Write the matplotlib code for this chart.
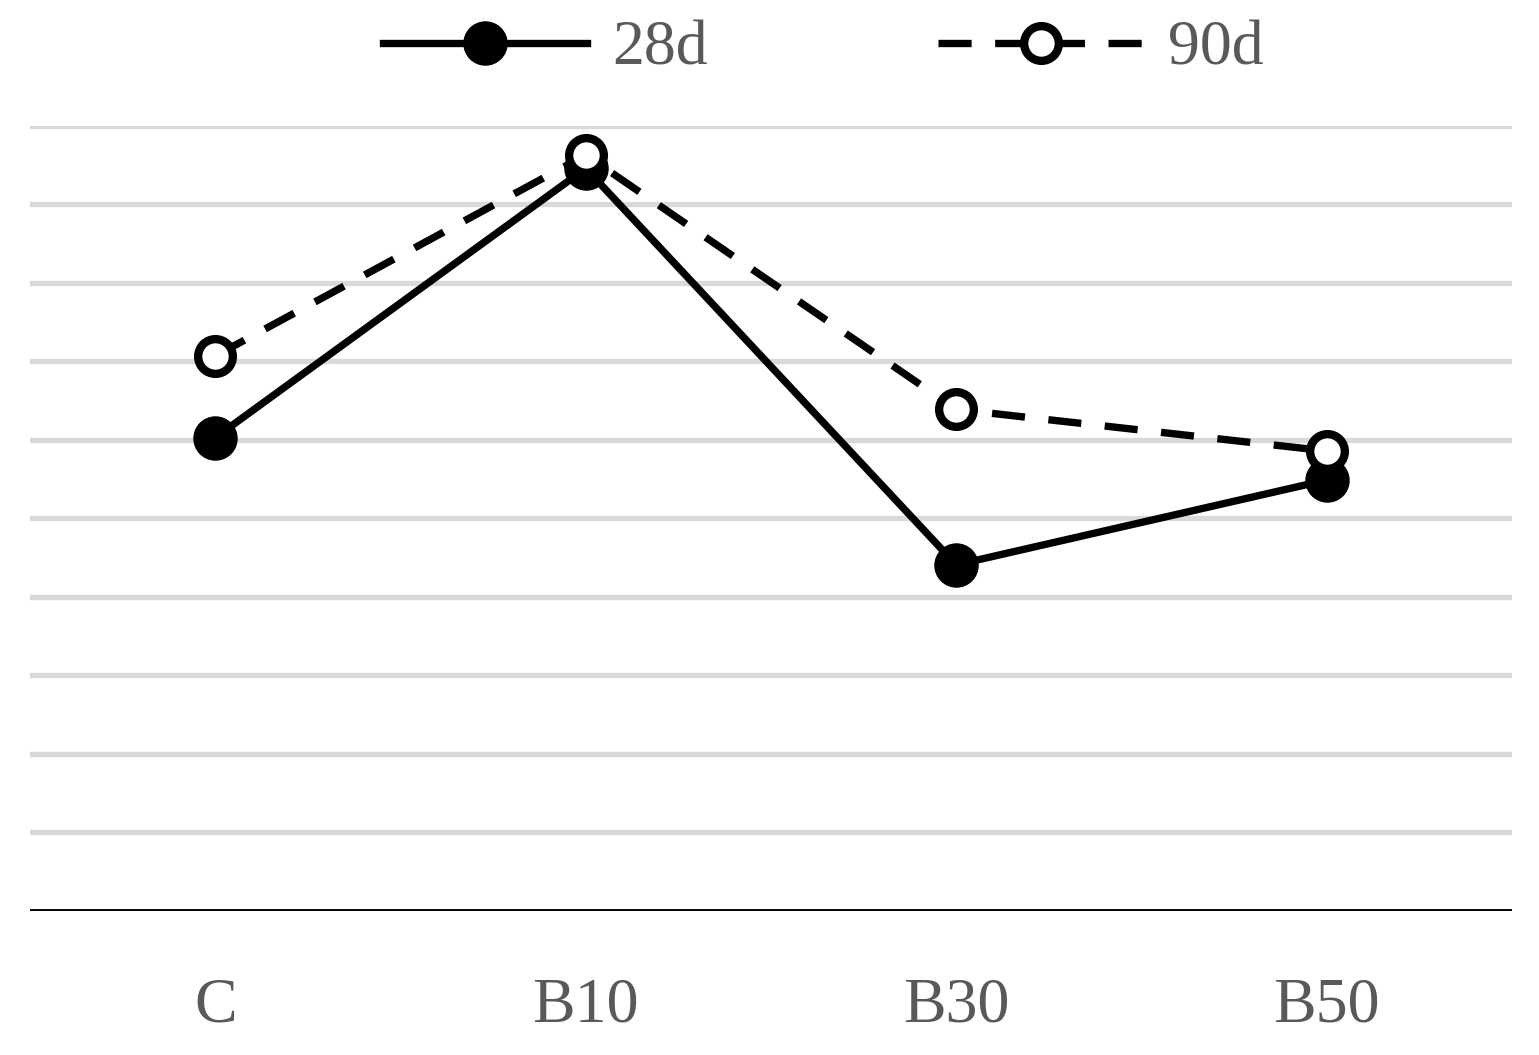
import matplotlib
matplotlib.use("Agg")
import matplotlib.pyplot as plt
from matplotlib.lines import Line2D

categories = ["C", "B10", "B30", "B50"]
d28 = [6.03, 9.46, 4.41, 5.49]
d90 = [7.07, 9.63, 6.39, 5.86]

plt.rcParams['font.family'] = ['Liberation Serif', 'DejaVu Serif']
fig = plt.figure(figsize=(15.39, 10.55), dpi=100)
ax = fig.add_axes([0.0195, 0.1365, 0.963, 0.7441])
x = range(len(categories))
for y in range(1, 11):
    ax.axhline(y, color='#d9d9d9', lw=3.8, zorder=0)
ax.axhline(0, color='black', lw=3.5, zorder=1)
ax.plot(x, d28, '-', color='black', lw=5.3, marker='o', ms=31, mfc='black', mec='black', zorder=3)
ax.plot(x, d90, '--', color='black', lw=5.3, dashes=(4.5, 3.2), marker='o', ms=25, mfc='white', mec='black', mew=6, zorder=4)
ax.set_xlim(-0.5, 3.5)
ax.set_ylim(0, 10)
ax.set_xticks(list(x))
ax.set_xticklabels(categories, fontsize=46, color='#595959')
ax.tick_params(axis='x', length=0, pad=48)
ax.set_yticks([])
for s in ax.spines.values():
    s.set_visible(False)
h1 = Line2D([], [], color='black', lw=5.3, marker='o', ms=31)
h2 = Line2D([], [], color='black', lw=5.3, ls='--', dashes=(4.5, 3.2), marker='o', ms=25, mfc='white', mew=6)
fig.legend([h1, h2], ['28d', '90d'], loc='center', bbox_to_anchor=(0.535, 0.953), ncol=2,
           frameon=False, fontsize=46, labelcolor='#595959', handlelength=3.2,
           columnspacing=3.6, handletextpad=0.4)
fig.savefig("out.png", dpi=100)
